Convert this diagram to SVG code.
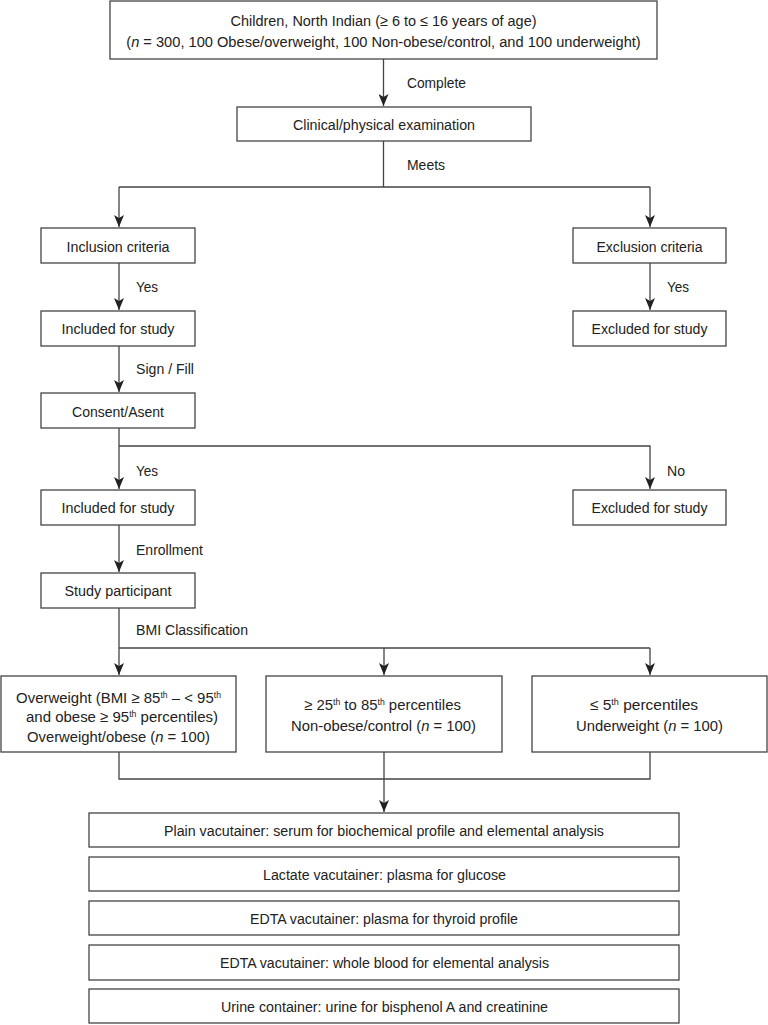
<svg xmlns="http://www.w3.org/2000/svg" width="768" height="1025" viewBox="0 0 768 1025">
<style>
  .box{fill:#fff;stroke:#444;stroke-width:1.3}
  .t{font-family:"Liberation Sans",Arial,sans-serif;font-size:15.5px;fill:#222;text-anchor:middle}
  .l{font-family:"Liberation Sans",Arial,sans-serif;font-size:15.5px;fill:#222;text-anchor:start}
  .c{fill:none;stroke:#444;stroke-width:1.3}
  .sup{font-size:9px}
  .i{font-style:italic}
</style>
<defs>
  <marker id="ah" markerUnits="userSpaceOnUse" markerWidth="12" markerHeight="10" refX="12" refY="5" orient="auto">
    <path d="M0,0 L12,5 L0,10 L3,5 Z" fill="#222"/>
  </marker>
</defs>
<rect width="768" height="1025" fill="#fff"/>

<g id="connectors">
  <path class="c" d="M383.5,59 V106" marker-end="url(#ah)"/>
  <path class="c" d="M383.5,141 V187 M119,187 H650"/>
  <path class="c" d="M119,187 V227" marker-end="url(#ah)"/>
  <path class="c" d="M650,187 V227" marker-end="url(#ah)"/>
  <path class="c" d="M119,263 V310" marker-end="url(#ah)"/>
  <path class="c" d="M650,263 V310" marker-end="url(#ah)"/>
  <path class="c" d="M119,346 V392" marker-end="url(#ah)"/>
  <path class="c" d="M119,428 V489" marker-end="url(#ah)"/>
  <path class="c" d="M119,446 H650 V489" marker-end="url(#ah)"/>
  <path class="c" d="M119,525 V572" marker-end="url(#ah)"/>
  <path class="c" d="M119,608 V675" marker-end="url(#ah)"/>
  <path class="c" d="M119,648 H650"/>
  <path class="c" d="M384,648 V675" marker-end="url(#ah)"/>
  <path class="c" d="M650,648 V675" marker-end="url(#ah)"/>
  <path class="c" d="M119,752 V779 H650 V752 M384,752 V779"/>
  <path class="c" d="M384,779 V812" marker-end="url(#ah)"/>
  <text class="l" x="407" y="88" textLength="59" lengthAdjust="spacingAndGlyphs">Complete</text>
  <text class="l" x="407" y="170" textLength="38" lengthAdjust="spacingAndGlyphs">Meets</text>
  <text class="l" x="136" y="292" textLength="22" lengthAdjust="spacingAndGlyphs">Yes</text>
  <text class="l" x="667" y="292" textLength="22" lengthAdjust="spacingAndGlyphs">Yes</text>
  <text class="l" x="136" y="374" textLength="58" lengthAdjust="spacingAndGlyphs">Sign / Fill</text>
  <text class="l" x="136" y="476" textLength="22" lengthAdjust="spacingAndGlyphs">Yes</text>
  <text class="l" x="667" y="476" textLength="18" lengthAdjust="spacingAndGlyphs">No</text>
  <text class="l" x="136" y="555" textLength="67" lengthAdjust="spacingAndGlyphs">Enrollment</text>
  <text class="l" x="136" y="635" textLength="112" lengthAdjust="spacingAndGlyphs">BMI Classification</text>
</g>

<g id="n-children">
  <rect class="box" x="110" y="1" width="547" height="58"/>
  <text class="t" x="383.5" y="26" textLength="306" lengthAdjust="spacingAndGlyphs">Children, North Indian (≥ 6 to ≤ 16 years of age)</text>
  <text class="t" transform="translate(383.5,47) scale(0.945,1)">(<tspan class="i">n</tspan> = 300, 100 Obese/overweight, 100 Non-obese/control, and 100 underweight)</text>
</g>
<g id="n-clinical">
  <rect class="box" x="237" y="107" width="294" height="34"/>
  <text class="t" x="384" y="130" textLength="182" lengthAdjust="spacingAndGlyphs">Clinical/physical examination</text>
</g>
<g id="n-inclusion">
  <rect class="box" x="41" y="228" width="154" height="35"/>
  <text class="t" x="118" y="252" textLength="103" lengthAdjust="spacingAndGlyphs">Inclusion criteria</text>
</g>
<g id="n-exclusion">
  <rect class="box" x="573" y="228" width="153" height="35"/>
  <text class="t" x="649.5" y="252" textLength="106" lengthAdjust="spacingAndGlyphs">Exclusion criteria</text>
</g>
<g id="n-included1">
  <rect class="box" x="41" y="311" width="154" height="35"/>
  <text class="t" x="118" y="334" textLength="113" lengthAdjust="spacingAndGlyphs">Included for study</text>
</g>
<g id="n-excluded1">
  <rect class="box" x="573" y="311" width="153" height="35"/>
  <text class="t" x="649.5" y="334" textLength="116" lengthAdjust="spacingAndGlyphs">Excluded for study</text>
</g>
<g id="n-consent">
  <rect class="box" x="41" y="393" width="154" height="35"/>
  <text class="t" x="118" y="417" textLength="92" lengthAdjust="spacingAndGlyphs">Consent/Asent</text>
</g>
<g id="n-included2">
  <rect class="box" x="41" y="490" width="154" height="35"/>
  <text class="t" x="118" y="513" textLength="113" lengthAdjust="spacingAndGlyphs">Included for study</text>
</g>
<g id="n-excluded2">
  <rect class="box" x="573" y="490" width="153" height="35"/>
  <text class="t" x="649.5" y="513" textLength="116" lengthAdjust="spacingAndGlyphs">Excluded for study</text>
</g>
<g id="n-participant">
  <rect class="box" x="41" y="573" width="154" height="35"/>
  <text class="t" x="118" y="596" textLength="107" lengthAdjust="spacingAndGlyphs">Study participant</text>
</g>
<g id="n-overweight">
  <rect class="box" x="1" y="676" width="235" height="76"/>
  <text class="t" transform="translate(118.5,703) scale(0.964,1)">Overweight (BMI ≥ 85<tspan class="sup" dy="-5">th</tspan><tspan dy="5"> – &lt; 95</tspan><tspan class="sup" dy="-5">th</tspan></text>
  <text class="t" transform="translate(122,722) scale(0.967,1)">and obese ≥ 95<tspan class="sup" dy="-5">th</tspan><tspan dy="5"> percentiles)</tspan></text>
  <text class="t" transform="translate(118.5,742) scale(0.955,1)">Overweight/obese (<tspan class="i">n</tspan> = 100)</text>
</g>
<g id="n-control">
  <rect class="box" x="266" y="676" width="236" height="76"/>
  <text class="t" transform="translate(382.5,710) scale(0.962,1)">≥ 25<tspan class="sup" dy="-5">th</tspan><tspan dy="5"> to 85</tspan><tspan class="sup" dy="-5">th</tspan><tspan dy="5"> percentiles</tspan></text>
  <text class="t" transform="translate(383.5,731) scale(0.957,1)">Non-obese/control (<tspan class="i">n</tspan> = 100)</text>
</g>
<g id="n-underweight">
  <rect class="box" x="532" y="676" width="235" height="76"/>
  <text class="t" transform="translate(644,710) scale(1,1)">≤ 5<tspan class="sup" dy="-5">th</tspan><tspan dy="5"> percentiles</tspan></text>
  <text class="t" transform="translate(649.5,731) scale(0.956,1)">Underweight (<tspan class="i">n</tspan> = 100)</text>
</g>
<g id="n-plain">
  <rect class="box" x="89" y="813" width="590" height="34"/>
  <text class="t" x="384" y="836" textLength="440" lengthAdjust="spacingAndGlyphs">Plain vacutainer: serum for biochemical profile and elemental analysis</text>
</g>
<g id="n-lactate">
  <rect class="box" x="89" y="857" width="590" height="34"/>
  <text class="t" x="384.5" y="880" textLength="243" lengthAdjust="spacingAndGlyphs">Lactate vacutainer: plasma for glucose</text>
</g>
<g id="n-edta1">
  <rect class="box" x="89" y="901" width="590" height="34"/>
  <text class="t" x="384" y="924" textLength="268" lengthAdjust="spacingAndGlyphs">EDTA vacutainer: plasma for thyroid profile</text>
</g>
<g id="n-edta2">
  <rect class="box" x="89" y="945" width="590" height="35"/>
  <text class="t" x="384.5" y="968" textLength="329" lengthAdjust="spacingAndGlyphs">EDTA vacutainer: whole blood for elemental analysis</text>
</g>
<g id="n-urine">
  <rect class="box" x="89" y="989" width="590" height="34"/>
  <text class="t" x="384.5" y="1012" textLength="327" lengthAdjust="spacingAndGlyphs">Urine container: urine for bisphenol A and creatinine</text>
</g>
</svg>
